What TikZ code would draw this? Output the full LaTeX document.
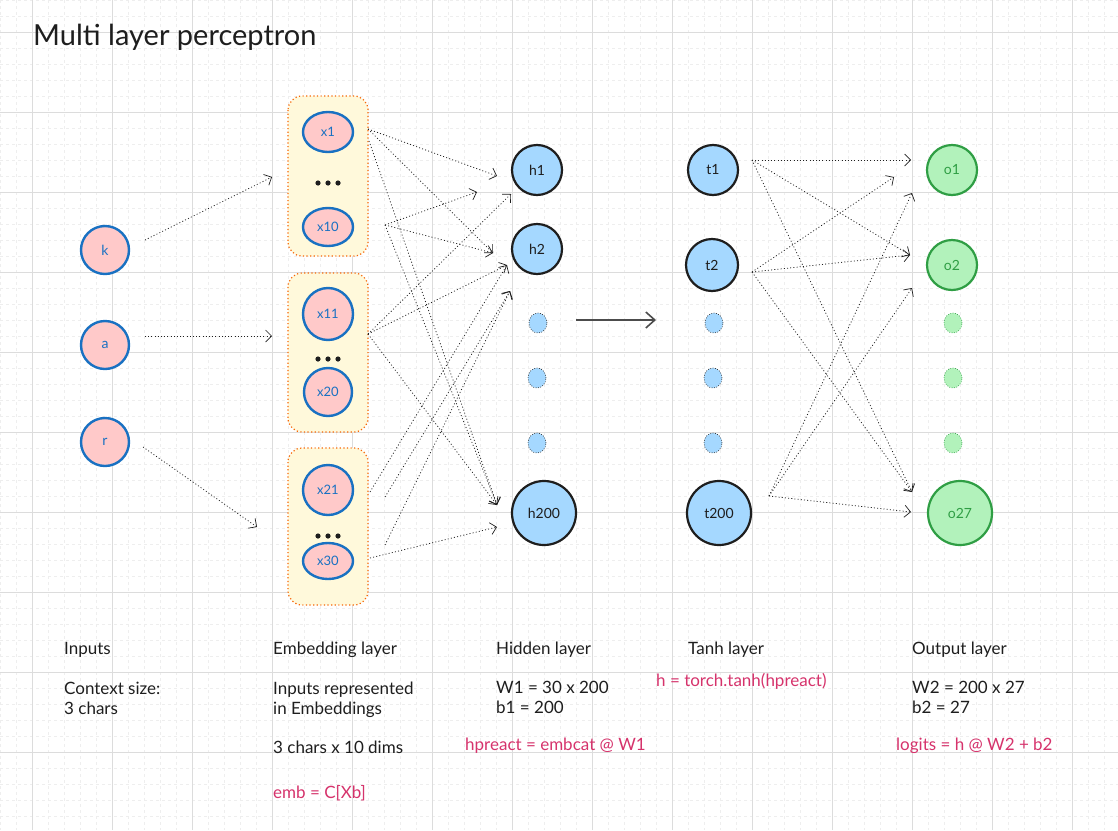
\documentclass[tikz,border=0pt]{standalone}
\usepackage{fontspec}
\setmainfont{Lato}
\usetikzlibrary{arrows.meta,shapes.geometric}
\definecolor{pinkF}{HTML}{FFC9C9}
\definecolor{blueS}{HTML}{1971C2}
\definecolor{lblue}{HTML}{A5D8FF}
\definecolor{gfill}{HTML}{B2F2BB}
\definecolor{gstroke}{HTML}{2F9E44}
\definecolor{yfill}{HTML}{FFF9DB}
\definecolor{ostroke}{HTML}{F76707}
\definecolor{codered}{HTML}{D6336C}
\definecolor{ink}{HTML}{1E1E1E}
\definecolor{gmin}{HTML}{EEEEEE}
\definecolor{gmaj}{HTML}{DCDCDC}
\tikzset{
  inp/.style={circle, draw=blueS, fill=pinkF, line width=2.4pt, minimum size=48pt, inner sep=0pt, text=blueS, font=\fontsize{14}{14}\selectfont},
  embn/.style={ellipse, draw=blueS, fill=pinkF, line width=2.4pt, inner sep=0pt, text=blueS, font=\fontsize{13}{13}\selectfont},
  hid/.style={circle, draw=ink, fill=lblue, line width=2.2pt, minimum size=50pt, inner sep=0pt, text=ink, font=\fontsize{14}{14}\selectfont},
  hdot/.style={ellipse, draw=ink, fill=lblue, line width=0.6pt, dash pattern=on 0.8pt off 1.6pt, minimum width=18pt, minimum height=20pt, inner sep=0pt},
  outn/.style={circle, draw=gstroke, fill=gfill, line width=2.2pt, minimum size=50pt, inner sep=0pt, text=gstroke, font=\fontsize{14}{14}\selectfont},
  odot/.style={hdot, draw=gstroke, fill=gfill},
  embbox/.style={draw=ostroke, fill=yfill, line width=1.2pt, dash pattern=on 1.2pt off 2.4pt, rounded corners=14pt},
  conn/.style={draw=ink, line width=0.75pt, dash pattern=on 1pt off 2.2pt, -{Straight Barb[length=6pt,width=12pt,line width=0.7pt]}},
  mainarrow/.style={draw=black!70, line width=2pt, -{Straight Barb[length=9pt,width=16pt,line width=1.6pt]}},
  lbl/.style={anchor=base west, inner sep=0pt, font=\fontsize{17}{20}\selectfont, text=ink},
  code/.style={lbl, text=codered},
  gridminor/.style={draw=gmin, line width=0.8pt, dash pattern=on 3pt off 3pt},
  gridmajor/.style={draw=gmaj, line width=1pt},
}
\begin{document}
\begin{tikzpicture}[x=1pt,y=-1pt]
\useasboundingbox (0,0) rectangle (1118,830);
\fill[white] (0,0) rectangle (1118,830);
% grid
\foreach \x in {0,16,...,1118} {\pgfmathtruncatemacro\r{mod(\x-32+800,80)}\ifnum\r=0\else\draw[gridminor] (\x,0) -- (\x,830);\fi}
\foreach \y in {0,16,...,830} {\pgfmathtruncatemacro\r{mod(\y-32+800,80)}\ifnum\r=0\else\draw[gridminor] (0,\y) -- (1118,\y);\fi}
\foreach \x in {32,112,...,1118} \draw[gridmajor] (\x,0) -- (\x,830);
\foreach \y in {32,112,...,830} \draw[gridmajor] (0,\y) -- (1118,\y);

% title
\node[anchor=base west, inner sep=0pt, font=\fontsize{29}{34}\selectfont, text=ink] (title) at (33,45) {Multi layer perceptron};

% inputs
\node[inp] (k) at (105,250) {k};
\node[inp] (a) at (105,345) {a};
\node[inp] (r) at (105,442) {r};

% embedding boxes
\draw[embbox] (288,96) rectangle (368,256);
\draw[embbox] (288,273) rectangle (368,432);
\draw[embbox] (288,448) rectangle (368,605);
\node[embn, minimum width=50pt, minimum height=40pt] (x1) at (328,132) {x1};
\node[embn, minimum width=50pt, minimum height=38pt] (x10) at (328,227) {x10};
\node[embn, minimum width=50pt, minimum height=52pt] (x11) at (328,314) {x11};
\node[embn, minimum width=48pt, minimum height=48pt] (x20) at (328,392) {x20};
\node[embn, minimum width=50pt, minimum height=50pt] (x21) at (328,490) {x21};
\node[embn, minimum width=50pt, minimum height=36pt] (x30) at (328,561) {x30};
\foreach \yy in {183,359,536} {
  \fill[ink] (318,\yy) circle (2.6pt);
  \fill[ink] (328,\yy) circle (2.6pt);
  \fill[ink] (338,\yy) circle (2.6pt);
}

% hidden
\node[hid] (h1) at (537,170) {h1};
\node[hid] (h2) at (537,249) {h2};
\node[hdot] (hd1) at (538,323) {};
\node[hdot] (hd2) at (537,378) {};
\node[hdot] (hd3) at (537,443) {};
\node[hid, minimum size=64pt] (h200) at (544,513) {h200};

% tanh
\node[hid] (t1) at (713,170) {t1};
\node[hid, minimum size=52pt] (t2) at (712,265) {t2};
\node[hdot] (td1) at (714,323) {};
\node[hdot] (td2) at (713,378) {};
\node[hdot] (td3) at (713,443) {};
\node[hid, minimum size=64pt] (t200) at (719,513) {t200};

% output
\node[outn] (o1) at (952,170) {o1};
\node[outn] (o2) at (952,265) {o2};
\node[odot] (od1) at (953,323) {};
\node[odot] (od2) at (953,378) {};
\node[odot] (od3) at (953,443) {};
\node[outn, minimum size=64pt] (o27) at (960,513) {o27};

% input -> embedding
\coordinate (kS) at (145,240); \coordinate (kE) at (272,177);
\coordinate (aS) at (145,336); \coordinate (aE) at (272,336);
\coordinate (rS) at (143,447); \coordinate (rE) at (257,527);
\draw[conn] (kS) -- (kE);
\draw[conn] (aS) -- (aE);
\draw[conn] (rS) -- (rE);

% embedding -> hidden
\coordinate (eA) at (368,129);
\coordinate (eA2) at (369,141);
\coordinate (eB) at (385,225);
\coordinate (eC) at (368,334);
\coordinate (eD) at (370,492);
\coordinate (eD2) at (385,497);
\coordinate (eE) at (385,545);
\coordinate (eF) at (370,558);
\coordinate (h1a) at (497,176);
\coordinate (h1b) at (477,192);
\coordinate (h1c) at (511,194);
\coordinate (h2a) at (493,253);
\coordinate (h2b) at (507,265);
\coordinate (h2c) at (510,291);
\coordinate (h200a) at (497,505);
\coordinate (h200b) at (497,527);
\draw[conn] (eA) -- (h1a);
\draw[conn] (eA) -- (h2a);
\draw[conn] (eA2) -- (h200a);
\draw[conn] (eB) -- (h1b);
\draw[conn] (eB) -- (h2a);
\draw[conn] (eB) -- (h200a);
\draw[conn] (eC) -- (h1c);
\draw[conn] (eC) -- (h2b);
\draw[conn] (eC) -- (h200a);
\draw[conn] (eD) -- (h2b);
\draw[conn] (eD2) -- (h2c);
\draw[conn] (eE) -- (h2c);
\draw[conn] (eF) -- (h200b);

% main arrow
\coordinate (mS) at (576,320); \coordinate (mE) at (656,320);
\draw[mainarrow] (mS) -- (mE);

% tanh -> output
\coordinate (tS1) at (752,160);
\coordinate (tS2) at (752,272);
\coordinate (tS3) at (769,496);
\coordinate (o1a) at (911,160);
\coordinate (o1b) at (894,177);
\coordinate (o1c) at (912,193);
\coordinate (o2a) at (910,255);
\coordinate (o2b) at (912,288);
\coordinate (o27a) at (912,492);
\coordinate (o27b) at (911,512);
\draw[conn] (tS1) -- (o1a);
\draw[conn] (tS1) -- (o2a);
\draw[conn] (tS1) -- (o27a);
\draw[conn] (tS2) -- (o1b);
\draw[conn] (tS2) -- (o2a);
\draw[conn] (tS2) -- (o27a);
\draw[conn] (tS3) -- (o1c);
\draw[conn] (tS3) -- (o2b);
\draw[conn] (tS3) -- (o27b);

% labels
\node[lbl] (l1) at (64,654) {Inputs};
\node[lbl] (l2) at (64,694) {Context size:};
\node[lbl] (l3) at (64,714) {3 chars};
\node[lbl] (l4) at (273,654) {Embedding layer};
\node[lbl] (l5) at (273,694) {Inputs represented};
\node[lbl] (l6) at (273,714) {in Embeddings};
\node[lbl] (l7) at (273,753) {3 chars x 10 dims};
\node[code] (l8) at (273,798) {emb = C[Xb]};
\node[lbl] (l9) at (496,654) {Hidden layer};
\node[lbl] (l10) at (496,693) {W1 = 30 x 200};
\node[lbl] (l11) at (496,713) {b1 = 200};
\node[code] (l12) at (465,750) {hpreact = embcat @ W1};
\node[lbl] (l13) at (688,654) {Tanh layer};
\node[code] (l14) at (656,686) {h = torch.tanh(hpreact)};
\node[lbl] (l15) at (912,654) {Output layer};
\node[lbl] (l16) at (912,693) {W2 = 200 x 27};
\node[lbl] (l17) at (912,713) {b2 = 27};
\node[code] (l18) at (896,750) {logits = h @ W2 + b2};
\end{tikzpicture}
\end{document}
